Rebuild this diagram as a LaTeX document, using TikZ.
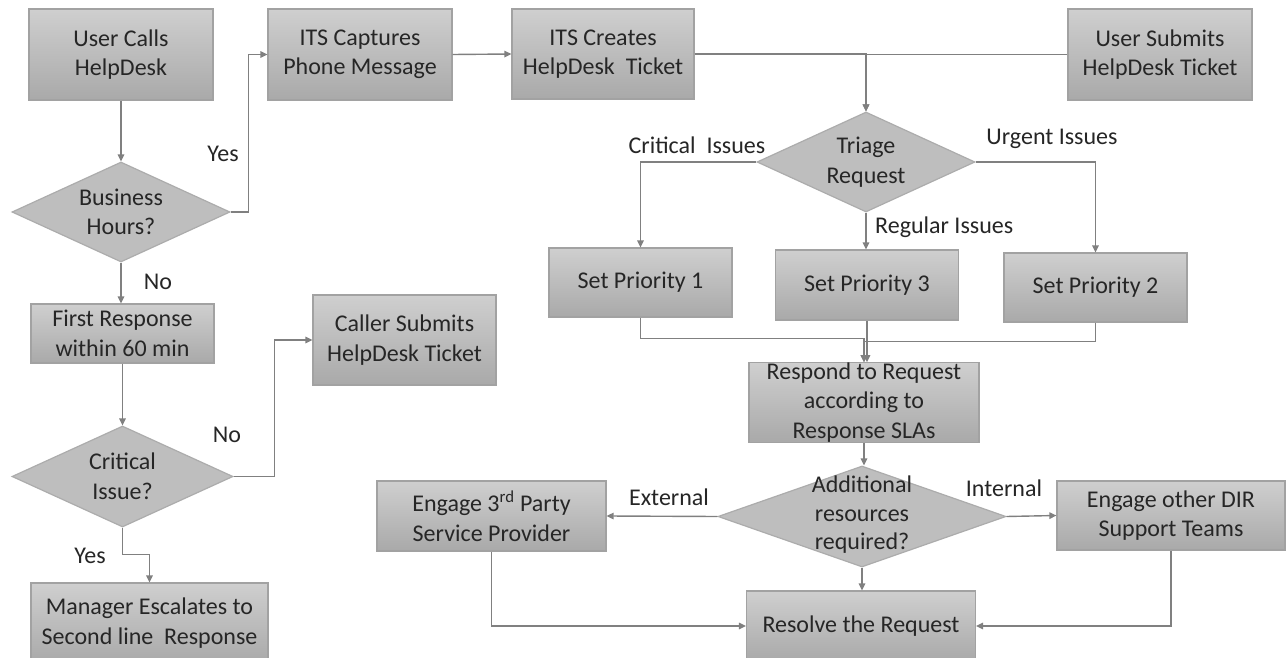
\documentclass[tikz,border=0pt]{standalone}
\usepackage{fontspec}
\setmainfont{Carlito}
\usetikzlibrary{shapes.geometric,arrows.meta}

\definecolor{boxtop}{HTML}{CFCFCF}
\definecolor{boxbot}{HTML}{A9A9A9}
\definecolor{boxedge}{HTML}{A2A2A2}
\definecolor{diafill}{HTML}{BEBEBE}
\definecolor{diaedge}{HTML}{ACACAC}
\definecolor{wirecol}{HTML}{808080}
\definecolor{ink}{HTML}{262626}

\newcommand{\chartfont}{\fontsize{24}{29.5}\selectfont}

\tikzset{
  box/.style 2 args={rectangle, draw=boxedge, line width=1.2pt,
    top color=boxtop, bottom color=boxbot, text=ink, align=center,
    inner sep=0pt, font=\chartfont, minimum width=#1, minimum height=#2},
  dia/.style 2 args={diamond, draw=diaedge, line width=1.2pt, fill=diafill,
    inner sep=0pt, minimum width=#1, minimum height=#2},
  diatext/.style={text=ink, align=center, inner sep=0pt, font=\chartfont},
  lbl/.style={text=ink, inner sep=0pt, font=\chartfont},
  conn/.style={draw=wirecol, line width=1.4pt, -{Triangle[length=7pt,width=6.5pt]}},
}

\begin{document}
\begin{tikzpicture}[x=1pt,y=-1pt]
  \fill[white] (0,0) rectangle (1286,658);
  \useasboundingbox (0,0) rectangle (1286,658);

  % ---- left column: phone path
  \node[box={184}{91}] (call) at (121,54.5) {User Calls\\HelpDesk};
  \node[dia={218}{100}] (bh) at (121,212) {};
  \node[diatext] (bht) at (bh) {Business\\Hours?};
  \node[box={183}{59}] (first) at (122.5,333.5) {First Response\\within 60 min};
  \node[dia={221}{101}] (ci) at (122.5,476.5) {};
  \node[diatext] (cit) at (ci) {Critical\\Issue?};
  \node[box={237}{80}] (mgr) at (149.5,623) {Manager Escalates to\\Second line~~Response};
  \node[box={183}{90}] (caller) at (404.5,340) {Caller Submits\\HelpDesk Ticket};

  % ---- top row
  \node[box={184}{91}] (capt) at (360,54.5) {ITS Captures\\Phone Message};
  \node[box={182}{90}] (create) at (603,54) {ITS Creates\\HelpDesk~~Ticket};
  \node[box={184}{91}] (submit) at (1160,54.5) {User Submits\\HelpDesk Ticket};

  % ---- triage and priorities
  \node[dia={218}{100}] (triage) at (866,162) {};
  \node[diatext] (triaget) at (triage) {Triage\\Request};
  \node[box={183}{69}] (p1) at (640.5,282.5) {Set Priority 1};
  \node[box={183}{70}] (p3) at (867,285) {Set Priority 3};
  \node[box={183}{69}] (p2) at (1095.5,287.5) {Set Priority 2};

  % ---- response and resolution
  \node[box={230}{79}] (respond) at (864,402.5) {Respond to Request\\according to\\Response SLAs};
  \node[dia={288}{101}] (add) at (862,516.5) {};
  \node[diatext, font=\fontsize{24}{28.5}\selectfont] (addt) at (862,515) {Additional\\resources\\required?};
  \node[box={229}{70}] (ext) at (491.5,516) {Engage 3\textsuperscript{rd} Party\\Service Provider};
  \node[box={228}{69}] (int) at (1171,515.5) {Engage other DIR\\Support Teams};
  \node[box={229}{70}] (resolve) at (861,626) {Resolve the Request};

  % ---- edge labels
  \node[lbl] (yes1) at (223,154) {Yes};
  \node[lbl] (no1) at (158,282) {No};
  \node[lbl] (no2) at (227,435) {No};
  \node[lbl] (yes2) at (90,556) {Yes};
  \node[lbl] (critl) at (697,145) {Critical~~Issues};
  \node[lbl] (urgl) at (1052,139) {Urgent Issues};
  \node[lbl, anchor=west] (regl) at (875,227) {Regular Issues};
  \node[lbl] (extl) at (669,497) {External};
  \node[lbl] (intl) at (1004,488) {Internal};

  % ---- connectors
  \draw[conn] (call.south) -- (bh.north);
  \draw[conn] (bh.east) -- ++(18,0) |- (capt.west);
  \draw[conn] (bh.south) -- (bh.south |- first.north);
  \draw[conn] (capt.east) -- (create.west);
  \draw[conn] (create.east) -| (triage.north);
  \draw[conn] (submit.west) -| (triage.north);
  \draw[conn] (first.south) -- (first.south |- ci.north);
  \draw[conn] (ci.east) -- ++(41,0) |- (caller.west);
  \draw[conn] (ci.south) -- ++(0,27) -| (mgr.north);

  \draw[conn] (triage.west) -| (p1.north);
  \draw[conn] (triage.east) -| (p2.north);
  \draw[conn] (triage.south) -- (triage.south |- p3.north);

  \draw[conn] (p1.south) -- ++(0,21) -| (respond.north);
  \draw[conn] (p2.south) -- ++(0,19) -| (respond.north);
  \draw[conn] (p3.south) -- (p3.south |- respond.north);

  \draw[conn] (respond.south) -- (respond.south |- add.north);
  \draw[conn] (add.west) -- (ext.east);
  \draw[conn] (add.east) -- (int.west);
  \draw[conn] (add.south) -- (add.south |- resolve.north);
  \draw[conn] (ext.south) |- (resolve.west);
  \draw[conn] (int.south) |- (resolve.east);
\end{tikzpicture}
\end{document}
